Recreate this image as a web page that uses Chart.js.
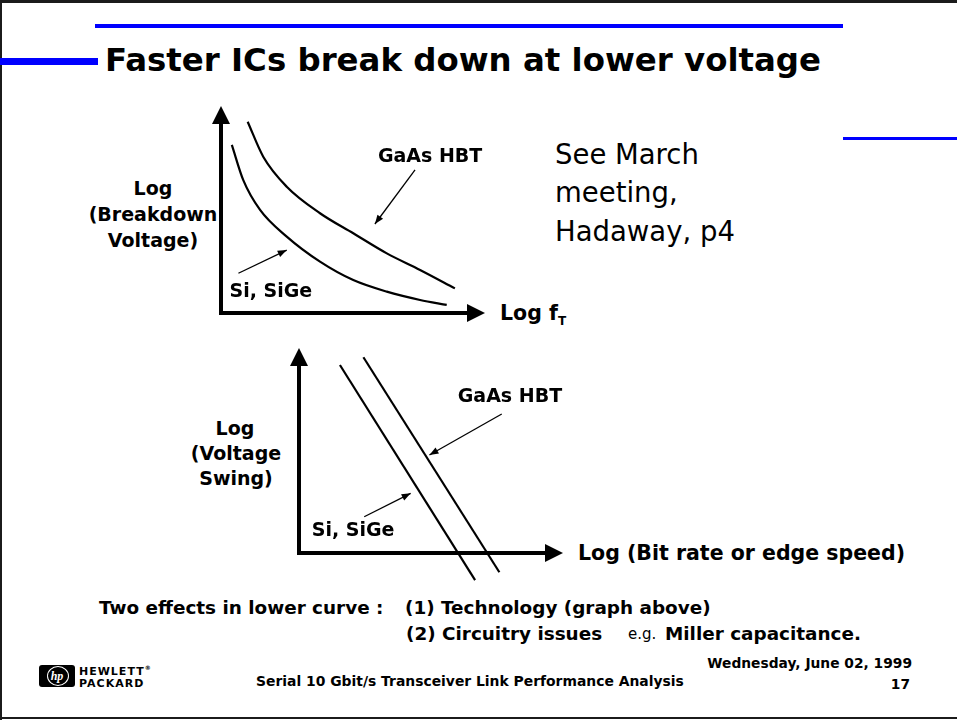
<!DOCTYPE html>
<html>
<head>
<meta charset="utf-8">
<title>Faster ICs break down at lower voltage</title>
<script src="https://cdn.jsdelivr.net/npm/chart.js@4.4.1/dist/chart.umd.min.js"></script>
<style>
body { margin: 0; background: #fff; }
#slide { position: relative; width: 957px; height: 720px; overflow: hidden; background: #fff;
  font-family: "DejaVu Sans", sans-serif; color: #000; }
.bar { position: absolute; }
.t { position: absolute; white-space: nowrap; line-height: 1; transform: translateY(-50%); }
.c { transform: translate(-50%, -50%); text-align: center; }
.r { transform: translate(-100%, -50%); text-align: right; }
.b { font-weight: bold; }
.wrap { position: absolute; }
</style>
</head>
<body>
<div id="slide">
  <!-- frame -->
  <div class="bar" style="left:0;top:0;width:957px;height:3px;background:#1b1b1b"></div>
  <div class="bar" style="left:0;top:0;width:2px;height:720px;background:#1b1b1b"></div>
  <div class="bar" style="left:0;top:717px;width:957px;height:2px;background:#1b1b1b"></div>

  <!-- blue rules -->
  <div class="bar" style="left:95px;top:24px;width:748px;height:4px;background:#0000ff"></div>
  <div class="bar" style="left:0;top:58px;width:98px;height:7px;background:#0000ff"></div>
  <div class="bar" style="left:843px;top:137px;width:114px;height:3px;background:#0000ff"></div>

  <div class="t b" style="left:105px;top:60px;font-size:32.4px">Faster ICs break down at lower voltage</div>

  <div class="t" style="left:555px;top:155px;font-size:27.5px">See March</div>
  <div class="t" style="left:555px;top:193px;font-size:27.5px">meeting,</div>
  <div class="t" style="left:555px;top:232px;font-size:27.5px">Hadaway, p4</div>

  <!-- upper graph titles -->
  <div class="t b c" style="left:153px;top:188px;font-size:19px">Log</div>
  <div class="t b c" style="left:153px;top:214px;font-size:19px">(Breakdown</div>
  <div class="t b c" style="left:153px;top:240px;font-size:19px">Voltage)</div>
  <div class="t b" style="left:500px;top:315px;font-size:20.5px">Log f<sub style="font-size:12px;vertical-align:-5px">T</sub></div>

  <!-- lower graph titles -->
  <div class="t b c" style="left:235px;top:428px;font-size:19px">Log</div>
  <div class="t b c" style="left:236px;top:453px;font-size:19px">(Voltage</div>
  <div class="t b c" style="left:236px;top:478px;font-size:19px">Swing)</div>
  <div class="t b" style="left:578px;top:553px;font-size:20.5px">Log (Bit rate or edge speed)</div>

  <div class="wrap" style="left:190px;top:94px;width:320px;height:231px"><canvas id="upperChart"></canvas></div>
  <div class="wrap" style="left:280px;top:335px;width:300px;height:260px"><canvas id="lowerChart"></canvas></div>

  <!-- notes -->
  <div class="t b" style="left:99px;top:608px;font-size:18.4px">Two effects in lower curve :</div>
  <div class="t b" style="left:405px;top:608px;font-size:18.4px">(1) Technology (graph above)</div>
  <div class="t b" style="left:406px;top:634px;font-size:18.4px">(2) Circuitry issues</div>
  <div class="t" style="left:628px;top:634px;font-size:15px">e.g.</div>
  <div class="t b" style="left:665px;top:634px;font-size:18.4px">Miller capacitance.</div>

  <!-- footer -->
  <div class="bar" style="left:39px;top:665px;width:36px;height:22px;background:#000;border-radius:3px"></div>
  <div class="bar" style="left:47px;top:666px;width:20px;height:18px;border:1.5px solid #fff;border-radius:50%"></div>
  <div class="t b c" style="left:57px;top:676px;font-size:12px;color:#fff;font-style:italic;font-family:'Liberation Serif',serif">hp</div>
  <div class="t b" style="left:79px;top:671px;font-size:11px;letter-spacing:1px">HEWLETT<sup style="font-size:6px">®</sup></div>
  <div class="t b" style="left:79px;top:683px;font-size:11px;letter-spacing:1px">PACKARD</div>
  <div class="t b" style="left:256px;top:682px;font-size:13.9px">Serial 10 Gbit/s Transceiver Link Performance Analysis</div>
  <div class="t b r" style="left:912px;top:664px;font-size:13.8px">Wednesday, June 02, 1999</div>
  <div class="t b r" style="left:910px;top:685px;font-size:13.8px">17</div>
</div>

<script>
// Both graphs are schematic: axes run 0..10 in arbitrary log units.
const seriesLabels = ['GaAs HBT', 'Si, SiGe'];

// upper graph: log breakdown voltage against log fT
const upperGaasX = [1.01, 1.60, 2.49, 3.75, 5.01, 6.28, 7.54, 8.86];
const upperGaasY = [9.24, 7.55, 6.10, 4.82, 3.85, 2.88, 2.08, 1.19];
const upperSiX = [0.41, 0.84, 1.48, 2.49, 3.75, 5.01, 6.28, 7.54, 8.55];
const upperSiY = [8.12, 6.43, 4.98, 3.69, 2.48, 1.59, 1.03, 0.63, 0.39];

// lower graph: log voltage swing against log bit rate, straight lines that run past the x axis
const lowerGaasX = [2.44, 7.59];
const lowerGaasY = [9.55, -0.94];
const lowerSiX = [1.55, 6.67];
const lowerSiY = [9.17, -1.32];

// callouts: label centre, arrow start, arrow end (data units)
const upperCallouts = [
    { text: seriesLabels[0], at: [7.92, 7.54], from: [7.35, 6.91], to: [5.83, 4.30] },
    { text: seriesLabels[1], at: [1.89, 1.01], from: [0.66, 1.92], to: [2.49, 3.04] }
];
const lowerCallouts = [
    { text: seriesLabels[0], at: [7.99, 7.61], from: [7.68, 6.78], to: [4.94, 4.78] },
    { text: seriesLabels[1], at: [2.05, 1.07], from: [2.47, 1.77], to: [4.23, 2.91] }
];

function toPoints(xs, ys) {
    return xs.map((x, i) => ({ x: x, y: ys[i] }));
}

function arrowHead(ctx, x0, y0, x1, y1, len, half) {
    const a = Math.atan2(y1 - y0, x1 - x0);
    const bx = x1 - len * Math.cos(a);
    const by = y1 - len * Math.sin(a);
    ctx.beginPath();
    ctx.moveTo(x1, y1);
    ctx.lineTo(bx + half * Math.sin(a), by - half * Math.cos(a));
    ctx.lineTo(bx - half * Math.sin(a), by + half * Math.cos(a));
    ctx.closePath();
    ctx.fill();
}

// thick axes with arrowheads, drawn through the origin of the scales
const arrowAxes = {
    id: 'arrowAxes',
    afterDatasetsDraw(chart) {
        const ctx = chart.ctx;
        const xs = chart.scales.x, ys = chart.scales.y;
        const ox = xs.getPixelForValue(0), oy = ys.getPixelForValue(0);
        const tx = xs.getPixelForValue(xs.max), ty = ys.getPixelForValue(ys.max);
        ctx.save();
        ctx.strokeStyle = '#000';
        ctx.fillStyle = '#000';
        ctx.lineWidth = 4;
        ctx.beginPath();
        ctx.moveTo(ox, ty + 16);
        ctx.lineTo(ox, oy + 2);
        ctx.moveTo(ox - 2, oy);
        ctx.lineTo(tx - 16, oy);
        ctx.stroke();
        arrowHead(ctx, ox, oy, ox, ty, 18, 9);
        arrowHead(ctx, ox, oy, tx, oy, 18, 9);
        ctx.restore();
    }
};

const callouts = {
    id: 'callouts',
    afterDatasetsDraw(chart, args, opts) {
        const ctx = chart.ctx;
        const xs = chart.scales.x, ys = chart.scales.y;
        ctx.save();
        ctx.strokeStyle = '#000';
        ctx.fillStyle = '#000';
        ctx.lineWidth = 1.3;
        ctx.font = 'bold 19px "DejaVu Sans"';
        ctx.textAlign = 'center';
        ctx.textBaseline = 'middle';
        (opts.items || []).forEach(c => {
            const x0 = xs.getPixelForValue(c.from[0]), y0 = ys.getPixelForValue(c.from[1]);
            const x1 = xs.getPixelForValue(c.to[0]), y1 = ys.getPixelForValue(c.to[1]);
            ctx.beginPath();
            ctx.moveTo(x0, y0);
            ctx.lineTo(x1, y1);
            ctx.stroke();
            arrowHead(ctx, x0, y0, x1, y1, 9, 3.5);
            ctx.fillText(c.text, xs.getPixelForValue(c.at[0]), ys.getPixelForValue(c.at[1]));
        });
        ctx.restore();
    }
};

function makeChart(id, sets, padding, items) {
    const ctx = document.getElementById(id).getContext('2d');
    return new Chart(ctx, {
        type: 'scatter',
        data: {
            datasets: sets.map((s, i) => ({
                label: seriesLabels[i],
                data: s,
                showLine: true,
                borderColor: '#000',
                borderWidth: 2.2,
                pointRadius: 0,
                cubicInterpolationMode: 'monotone',
                clip: false
            }))
        },
        options: {
            responsive: true,
            maintainAspectRatio: false,
            animation: false,
            layout: { padding: padding },
            scales: {
                x: { type: 'linear', min: 0, max: 10, display: false },
                y: { type: 'linear', min: 0, max: 10, display: false }
            },
            plugins: {
                legend: { display: false },
                tooltip: { enabled: false },
                callouts: { items: items }
            }
        },
        plugins: [arrowAxes, callouts]
    });
}

makeChart('upperChart',
    [toPoints(upperGaasX, upperGaasY), toPoints(upperSiX, upperSiY)],
    { left: 31, right: 25, top: 12, bottom: 12 },
    upperCallouts);

makeChart('lowerChart',
    [toPoints(lowerGaasX, lowerGaasY), toPoints(lowerSiX, lowerSiY)],
    { left: 19, right: 17, top: 13, bottom: 42 },
    lowerCallouts);
</script>
</body>
</html>
